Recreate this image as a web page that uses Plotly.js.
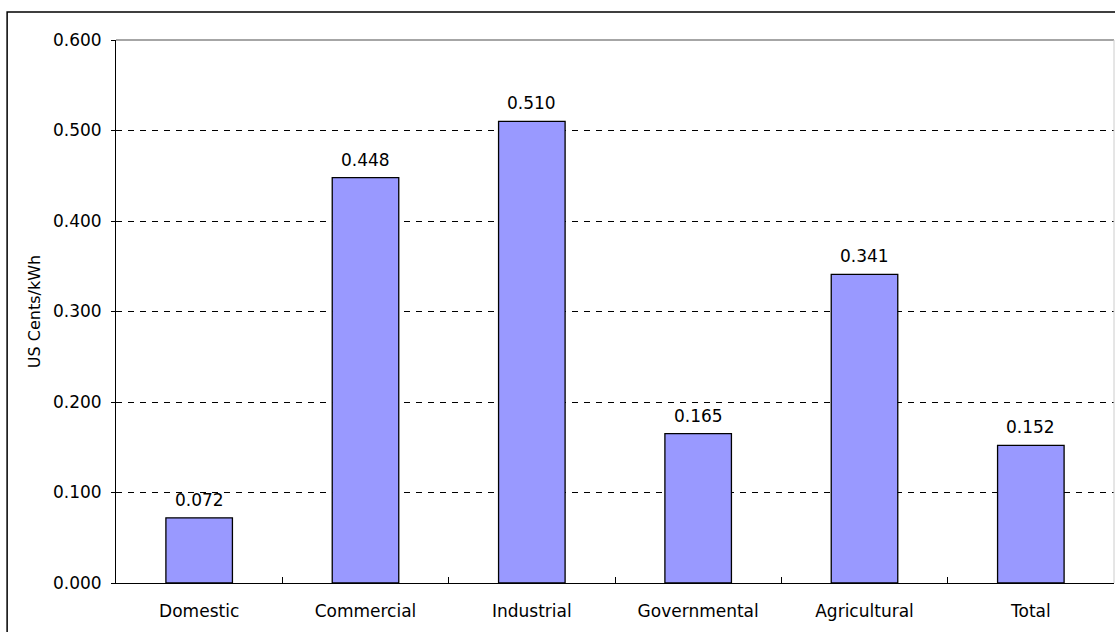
<!DOCTYPE html>
<html>
<head>
<meta charset="utf-8">
<script src="https://cdn.plot.ly/plotly-3.0.1.min.js"></script>
<style>html,body{margin:0;padding:0;background:#fff;}#chart{width:1115px;height:632px;}</style>
</head>
<body>
<div id="chart"></div>
<script>
const categories = ["Domestic", "Commercial", "Industrial", "Governmental", "Agricultural", "Total"];
const values = [0.072, 0.448, 0.510, 0.165, 0.341, 0.152];
const valueLabels = ["0.072", "0.448", "0.510", "0.165", "0.341", "0.152"];
const yTicks = [0, 0.1, 0.2, 0.3, 0.4, 0.5, 0.6];
const yTickLabels = ["0.000", "0.100", "0.200", "0.300", "0.400", "0.500", "0.600"];
const yTitle = "US Cents/kWh";

const FONT = "'DejaVu Sans', 'Liberation Sans', Arial, sans-serif";

const trace = {
  type: "bar",
  x: categories,
  y: values,
  marker: {color: "#9999FF", line: {color: "#000", width: 1.3}},
  width: 0.4,
  hoverinfo: "x+y"
};

const labelAnnotations = categories.map((c, i) => ({
  x: c, y: values[i], xref: "x", yref: "y",
  text: valueLabels[i], showarrow: false,
  yanchor: "bottom", xanchor: "center", yshift: 6,
  font: {family: FONT, size: 17, color: "#000"}
}));

const layout = {
  width: 1115, height: 632,
  margin: {l: 116, r: 1, t: 40, b: 49},
  paper_bgcolor: "#fff", plot_bgcolor: "#fff",
  font: {family: FONT, size: 17, color: "#000"},
  showlegend: false,
  xaxis: {
    type: "category",
    showline: true, linecolor: "#000", linewidth: 1,
    ticks: "inside", tickson: "boundaries", ticklen: 6, tickcolor: "#000",
    showgrid: false,
    tickfont: {family: FONT, size: 17, color: "#000"},
    ticklabelstandoff: 13
  },
  yaxis: {
    range: [0, 0.6],
    tickvals: yTicks, ticktext: yTickLabels,
    showline: true, linecolor: "#000", linewidth: 1,
    ticks: "outside", ticklen: 4, tickcolor: "#000",
    showgrid: true, gridcolor: "#000", gridwidth: 1, griddash: "6px,6px",
    zeroline: false,
    tickfont: {family: FONT, size: 17, color: "#000"},
    ticklabelstandoff: 6,
    title: {text: yTitle, font: {family: FONT, size: 16, color: "#000"}, standoff: 8}
  },
  annotations: labelAnnotations,
  shapes: [
    {type: "line", xref: "paper", yref: "paper", x0: 0, x1: 1, y0: 1, y1: 1, line: {color: "#888", width: 1.5}, layer: "above"},
    {type: "line", xref: "paper", yref: "paper", x0: 1, x1: 1, y0: 0, y1: 1, line: {color: "#ccc", width: 1}, layer: "above"},
    {type: "rect", xref: "paper", yref: "paper", x0: -0.1091, x1: 1.2, y0: -0.2, y1: 1.0516, line: {color: "#000", width: 1.5}, fillcolor: "rgba(0,0,0,0)", layer: "above"}
  ]
};

Plotly.newPlot("chart", [trace], layout, {displayModeBar: false, staticPlot: true});
</script>
</body>
</html>
